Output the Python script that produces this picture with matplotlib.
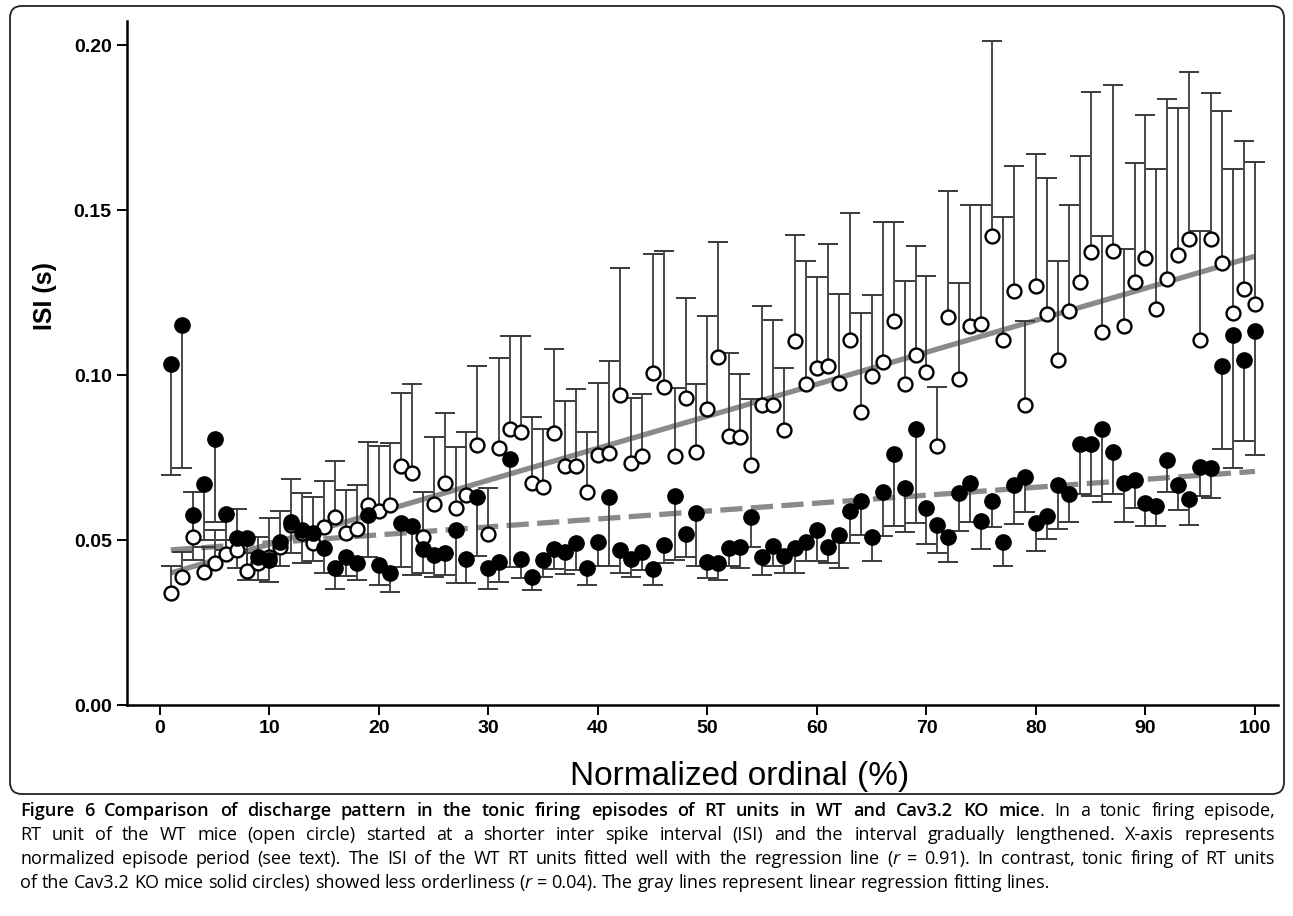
import numpy as np
import matplotlib.pyplot as plt
from matplotlib.patches import FancyBboxPatch
from matplotlib.transforms import IdentityTransform

# Normalized ordinal (%) of each interval in the episode
ordinal = np.arange(1, 101)

# WT units (open circles): mean ISI and top of the error bar
wt_isi = [0.0338, 0.0389, 0.0510, 0.0404, 0.0431, 0.0458, 0.0470, 0.0406, 0.0429, 0.0450,
          0.0480, 0.0545, 0.0520, 0.0490, 0.0540, 0.0569, 0.0522, 0.0532, 0.0606, 0.0589,
          0.0606, 0.0724, 0.0702, 0.0508, 0.0609, 0.0674, 0.0596, 0.0636, 0.0788, 0.0518,
          0.0778, 0.0835, 0.0826, 0.0674, 0.0660, 0.0823, 0.0724, 0.0725, 0.0646, 0.0758,
          0.0763, 0.0939, 0.0734, 0.0754, 0.1007, 0.0963, 0.0754, 0.0929, 0.0768, 0.0896,
          0.1054, 0.0815, 0.0811, 0.0727, 0.0909, 0.0909, 0.0833, 0.1103, 0.0972, 0.1021,
          0.1028, 0.0976, 0.1106, 0.0889, 0.0998, 0.1041, 0.1165, 0.0972, 0.1061, 0.1008,
          0.0785, 0.1177, 0.0988, 0.1149, 0.1154, 0.1420, 0.1107, 0.1254, 0.0910, 0.1269,
          0.1184, 0.1046, 0.1193, 0.1282, 0.1372, 0.1130, 0.1376, 0.1149, 0.1282, 0.1356,
          0.1199, 0.1290, 0.1363, 0.1411, 0.1107, 0.1413, 0.1340, 0.1188, 0.1261, 0.1216]
wt_top = [0.0422, 0.0465, 0.0646, 0.0480, 0.0530, 0.0500, 0.0593, 0.0460, 0.0510, 0.0566,
          0.0588, 0.0685, 0.0644, 0.0631, 0.0680, 0.0740, 0.0652, 0.0667, 0.0798, 0.0786,
          0.0793, 0.0946, 0.0972, 0.0646, 0.0813, 0.0886, 0.0783, 0.0828, 0.1028, 0.0659,
          0.1052, 0.1118, 0.1118, 0.0874, 0.0836, 0.1079, 0.0922, 0.0957, 0.0826, 0.0977,
          0.1042, 0.1325, 0.0931, 0.0942, 0.1367, 0.1377, 0.0960, 0.1235, 0.0973, 0.1179,
          0.1404, 0.1068, 0.1002, 0.0926, 0.1209, 0.1167, 0.1020, 0.1424, 0.1347, 0.1296,
          0.1398, 0.1246, 0.1492, 0.1187, 0.1243, 0.1465, 0.1465, 0.1285, 0.1392, 0.1299,
          0.0963, 0.1557, 0.1280, 0.1516, 0.1514, 0.2012, 0.1478, 0.1634, 0.1165, 0.1670,
          0.1597, 0.1346, 0.1514, 0.1663, 0.1858, 0.1420, 0.1878, 0.1382, 0.1642, 0.1787,
          0.1625, 0.1836, 0.1810, 0.1919, 0.1437, 0.1855, 0.1800, 0.1625, 0.1708, 0.1647]

# Cav3.2 KO units (solid circles): mean ISI and bottom of the error bar
ko_isi = [0.1033, 0.1152, 0.0576, 0.0669, 0.0805, 0.0578, 0.0505, 0.0506, 0.0449, 0.0439,
          0.0495, 0.0556, 0.0530, 0.0522, 0.0475, 0.0414, 0.0448, 0.0431, 0.0576, 0.0424,
          0.0401, 0.0553, 0.0542, 0.0472, 0.0455, 0.0462, 0.0530, 0.0441, 0.0631, 0.0414,
          0.0432, 0.0745, 0.0443, 0.0387, 0.0439, 0.0473, 0.0463, 0.0492, 0.0416, 0.0495,
          0.0629, 0.0470, 0.0441, 0.0464, 0.0412, 0.0485, 0.0633, 0.0518, 0.0583, 0.0434,
          0.0431, 0.0475, 0.0478, 0.0569, 0.0449, 0.0481, 0.0451, 0.0475, 0.0493, 0.0530,
          0.0478, 0.0516, 0.0589, 0.0617, 0.0508, 0.0645, 0.0760, 0.0659, 0.0836, 0.0596,
          0.0547, 0.0510, 0.0643, 0.0672, 0.0557, 0.0617, 0.0493, 0.0668, 0.0692, 0.0553,
          0.0574, 0.0666, 0.0638, 0.0791, 0.0791, 0.0835, 0.0768, 0.0672, 0.0681, 0.0612,
          0.0602, 0.0743, 0.0668, 0.0625, 0.0721, 0.0717, 0.1027, 0.1120, 0.1046, 0.1133]
ko_bottom = [0.0697, 0.0719, 0.0439, 0.0500, 0.0556, 0.0470, 0.0414, 0.0379, 0.0380, 0.0374,
             0.0421, 0.0460, 0.0429, 0.0437, 0.0399, 0.0351, 0.0391, 0.0379, 0.0449, 0.0364,
             0.0343, 0.0419, 0.0394, 0.0401, 0.0387, 0.0394, 0.0371, 0.0371, 0.0451, 0.0351,
             0.0374, 0.0419, 0.0384, 0.0349, 0.0389, 0.0411, 0.0397, 0.0409, 0.0364, 0.0420,
             0.0420, 0.0399, 0.0389, 0.0409, 0.0364, 0.0431, 0.0439, 0.0450, 0.0420, 0.0384,
             0.0379, 0.0420, 0.0414, 0.0478, 0.0394, 0.0420, 0.0399, 0.0399, 0.0437, 0.0437,
             0.0429, 0.0415, 0.0491, 0.0516, 0.0435, 0.0511, 0.0541, 0.0523, 0.0553, 0.0489,
             0.0461, 0.0434, 0.0528, 0.0556, 0.0473, 0.0539, 0.0420, 0.0550, 0.0586, 0.0468,
             0.0502, 0.0532, 0.0556, 0.0638, 0.0634, 0.0615, 0.0638, 0.0556, 0.0596, 0.0541,
             0.0541, 0.0647, 0.0592, 0.0545, 0.0632, 0.0627, 0.0775, 0.0717, 0.0800, 0.0758]

# regression lines, end points
fit_x = [1, 100]
wt_fit = [0.0400, 0.1360]
ko_fit = [0.0470, 0.0708]

W, H = 1293, 916
fig = plt.figure(figsize=(W / 100, H / 100), dpi=100)
ax = fig.add_axes([127 / W, 1 - 705 / H, (1278 - 127) / W, (705 - 21) / H])

gray = '#8a8a8a'
bar_col = '#3a3a3a'
ax.plot(fit_x, wt_fit, color=gray, lw=3.8, solid_capstyle='butt', zorder=1)
ax.plot(fit_x, ko_fit, color=gray, lw=3.8, dashes=(4.2, 1.6), zorder=1)

# WT error bars go up, KO error bars go down
ax.vlines(ordinal, wt_isi, wt_top, colors=bar_col, lw=1.3, zorder=2)
ax.scatter(ordinal, wt_top, marker='_', s=14 ** 2, color=bar_col, linewidths=1.4, zorder=2)
ax.vlines(ordinal, ko_bottom, ko_isi, colors=bar_col, lw=1.3, zorder=2)
ax.scatter(ordinal, ko_bottom, marker='_', s=14 ** 2, color=bar_col, linewidths=1.4, zorder=2)

ax.plot(ordinal, wt_isi, 'o', ms=10, mfc='white', mec='black', mew=1.7, ls='none', zorder=4)
ax.plot(ordinal, ko_isi, 'o', ms=11, mfc='black', mec='black', mew=1, ls='none', zorder=5)

ax.set_xlim(-3.0, 102.1)
ax.set_ylim(0, 0.2073)
ax.set_xticks(range(0, 101, 10))
ax.set_yticks([0, 0.05, 0.10, 0.15, 0.20])
ax.set_yticklabels(['0.00', '0.05', '0.10', '0.15', '0.20'])
for s in ['top', 'right']:
    ax.spines[s].set_visible(False)
for s in ['left', 'bottom']:
    ax.spines[s].set_linewidth(1.8)
ax.tick_params(direction='out', length=7, width=1.4, pad=4)
for lab in ax.get_yticklabels():
    lab.set_family(['Liberation Sans', 'DejaVu Sans'])
    lab.set_weight('bold')
    lab.set_fontsize(14)
for lab in ax.get_xticklabels():
    lab.set_family(['Liberation Sans', 'DejaVu Sans'])
    lab.set_weight('bold')
    lab.set_fontsize(14)

fig.text(45 / W, 1 - 296 / H, 'ISI (s)', rotation=90, ha='center', va='center',
         fontsize=18, weight='bold', family=['Liberation Sans', 'DejaVu Sans'])
fig.text(740 / W, 1 - 776 / H, 'Normalized ordinal (%)', ha='center', va='center',
         fontsize=24, family=['Liberation Sans', 'DejaVu Sans'])

# rounded frame around the chart
frame = FancyBboxPatch((10, H - 794), 1274, 788, boxstyle='round,pad=0,rounding_size=12',
                       transform=IdentityTransform(), fill=False, ec='#222222', lw=1.3)
fig.patches.append(frame)

# caption
caption = [
    [('Figure 6 Comparison of discharge pattern in the tonic firing episodes of RT units in WT and Cav3.2 KO mice', 'b'),
     ('. In a tonic firing episode,', 'n')],
    [('RT unit of the WT mice (open circle) started at a shorter inter spike interval (ISI) and the interval gradually lengthened. X-axis represents', 'n')],
    [('normalized episode period (see text). The ISI of the WT RT units fitted well with the regression line (', 'n'),
     ('r', 'i'), (' = 0.91). In contrast, tonic firing of RT units', 'n')],
    [('of the Cav3.2 KO mice solid circles) showed less orderliness (', 'n'), ('r', 'i'),
     (' = 0.04). The gray lines represent linear regression fitting lines.', 'n')],
]
cap_y = [816, 840, 864, 888]
cap_left, cap_right = 20, 1275
cap_size = 13.0
renderer = fig.canvas.get_renderer()


def split_words(segments):
    words = [[]]
    for text, fmt in segments:
        parts = text.split(' ')
        for i, p in enumerate(parts):
            if i > 0:
                words.append([])
            if p:
                words[-1].append((p, fmt))
    return [w for w in words if w]


def put(txt, x, y, fmt):
    return fig.text(x / W, 1 - y / H, txt, fontsize=cap_size, family=['Open Sans', 'DejaVu Sans'],
                    weight=600 if fmt == 'b' else 'normal',
                    style='italic' if fmt == 'i' else 'normal', va='baseline', ha='left')


t1 = put('a a', 0, 0, 'n')
t2 = put('a', 0, 0, 'n')
space_w = t1.get_window_extent(renderer).width - 2 * t2.get_window_extent(renderer).width
t1.remove()
t2.remove()

for k, line in enumerate(caption):
    words = split_words(line)
    drawn = []
    for w in words:
        pieces = []
        for txt, fmt in w:
            t = put(txt, 0, cap_y[k], fmt)
            pieces.append((t, t.get_window_extent(renderer).width))
        drawn.append(pieces)
    widths = [sum(p[1] for p in pcs) for pcs in drawn]
    gap = space_w
    if k < 3:
        gap = max((cap_right - cap_left - sum(widths)) / (len(words) - 1), 0.6 * space_w)
    xpos = cap_left
    for pcs, wd in zip(drawn, widths):
        xx = xpos
        for t, tw in pcs:
            t.set_x(xx / W)
            xx += tw
        xpos += wd + gap

fig.savefig('out.png', dpi=100)
